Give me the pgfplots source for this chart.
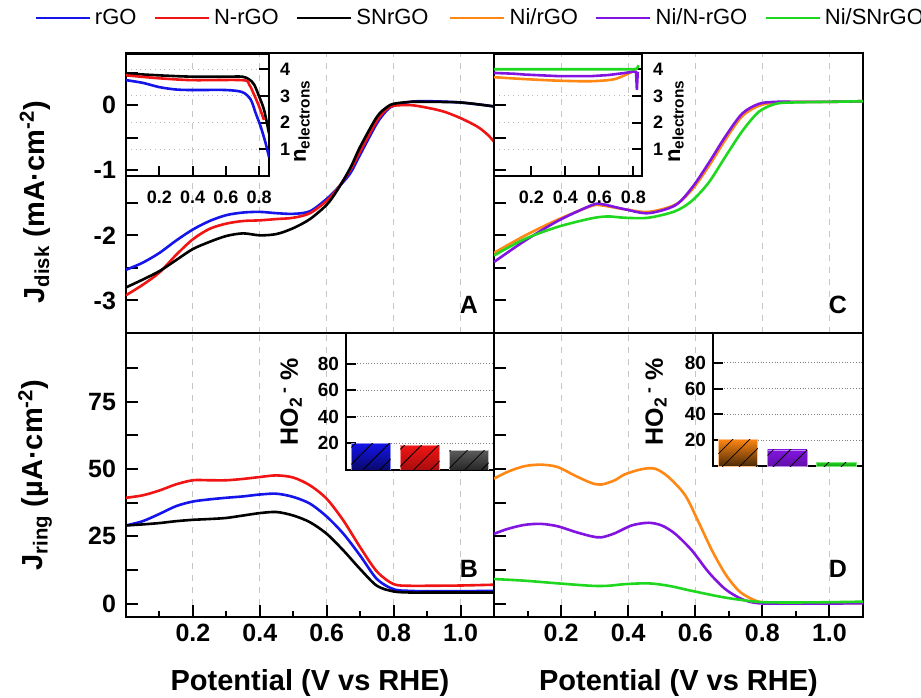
\documentclass[border=0pt]{standalone}
\usepackage{fontspec}
\setmainfont{Liberation Sans}
\usepackage{pgfplots}
\pgfplotsset{compat=1.18}
\usetikzlibrary{patterns.meta}

\definecolor{cblue}{RGB}{20,20,235}
\definecolor{cred}{RGB}{240,20,20}
\definecolor{corange}{RGB}{255,135,20}
\definecolor{cpurple}{RGB}{130,20,225}
\definecolor{cgreen}{RGB}{30,215,30}

\pgfplotsset{
  mainax/.style={
    scale only axis, xmin=0, xmax=1.1,
    axis line style={line width=1.2pt},
    tick align=inside,
    tick style={black, line width=1pt},
    xtick={0.2,0.4,0.6,0.8,1.0},
    minor xtick={0.1,0.3,0.5,0.7,0.9},
    xmajorgrids, major grid style={dashed, gray!45, line width=0.5pt},
    major tick length=6pt, minor tick length=3pt,
    ytick pos=left, xtick pos=bottom,
    /pgf/number format/assume math mode=true,
    tick label style={font=\fontsize{12.5}{14}\selectfont\bfseries},
    yticklabel style={xshift=-1.5pt},
    xticklabel style={/pgf/number format/fixed, /pgf/number format/fixed zerofill, /pgf/number format/precision=1},
    label style={font=\fontsize{14.5}{17}\selectfont\bfseries},
    every axis plot/.append style={line width=1.3pt, smooth, no markers},
    legend image code/.code={\draw[#1,line width=1.3pt] (0pt,0pt) -- (27pt,0pt);},
  },
  topax/.style={mainax, width=184pt, height=140pt, ymin=-3.5, ymax=0.8,
    ytick={-3.5,-3,-2.5,-2,-1.5,-1,-0.5,0,0.5},
    xticklabels={}, xtick style={draw=none}, minor xtick={}},
  botax/.style={mainax, width=184pt, height=142pt, ymin=-5, ymax=100.5,
    ytick={0,12.5,25,37.5,50,62.5,75,87.5},
    xlabel={Potential (V vs RHE)},
    xlabel style={at={(axis description cs:0.5,-0.232)}, anchor=center}},
  nax/.style={scale only axis, height=61pt, ymin=0, ymax=4.57,
    axis line style={line width=1.2pt}, tick align=inside,
    tick style={black, line width=1pt}, major tick length=5pt,
    xtick={0.2,0.4,0.6,0.8}, ytick={1,2,3,4},
    xtick pos=bottom, ytick pos=right, yticklabel pos=right,
    ymajorgrids, major grid style={dotted, gray!55, line width=0.5pt},
    /pgf/number format/assume math mode=true,
    tick label style={font=\fontsize{9}{10}\selectfont\bfseries},
    xticklabel style={/pgf/number format/fixed, /pgf/number format/fixed zerofill, /pgf/number format/precision=1, yshift=-4pt},
    yticklabel style={xshift=2pt},
    ylabel={n\textsubscript{electrons}},
    ylabel style={at={(axis description cs:1.23,0.45)}, anchor=center, font=\fontsize{11}{12}\selectfont\bfseries},
    every axis plot/.append style={line width=1.3pt, smooth, no markers}},
  barax/.style={scale only axis, ymin=0, ymax=103,
    axis background/.style={fill=white},
    axis line style={line width=1.2pt}, tick align=inside,
    tick style={black, line width=1pt}, major tick length=5pt,
    xtick=\empty, ytick={20,40,60,80}, ytick pos=left,
    ymajorgrids, major grid style={densely dotted, gray, line width=0.6pt},
    /pgf/number format/assume math mode=true,
    tick label style={font=\fontsize{9.5}{10}\selectfont\bfseries},
    ylabel={HO\textsubscript{2}\textsuperscript{\,-} \%},
    ylabel style={anchor=center, font=\fontsize{12.5}{14}\selectfont\bfseries}},
  hatch/.style={ybar, bar width=0.8, bar shift=0pt, draw=none,
    pattern={Lines[angle=45,distance=6pt,line width=0.4pt]}, pattern color=black},
}

\begin{document}
\begin{tikzpicture}[x=1pt,y=1pt]
\path[use as bounding box] (0,0) rectangle (460.5,348.5);

% ---------------- Panel A ----------------
\begin{axis}[topax, at={(63pt,182pt)}, anchor=south west,
  yticklabels={,-3,,-2,,-1,,0,},
  ylabel={J\textsubscript{disk} (mA·cm\textsuperscript{-2})},
  ylabel style={at={(axis description cs:-0.247,0.468)}, anchor=center},
  legend style={draw=none, fill=none, at={(axis description cs:0.292,1.125)}, anchor=center,
    legend columns=-1, font=\fontsize{11}{13}\selectfont,
    /tikz/every even column/.append style={column sep=6.5pt}}]
\addplot[cblue] coordinates {(0,-2.53) (0.05,-2.42) (0.1,-2.27) (0.15,-2.08) (0.2,-1.91) (0.25,-1.78) (0.3,-1.69) (0.35,-1.65) (0.4,-1.64) (0.45,-1.66) (0.5,-1.67) (0.55,-1.63) (0.6,-1.44) (0.63,-1.29) (0.67,-1.05) (0.7,-0.76) (0.75,-0.28) (0.78,-0.08) (0.8,-0.01) (0.85,0.05) (0.9,0.06) (1.0,0.04) (1.1,-0.02)};
\addlegendentry{rGO}
\addplot[cred] coordinates {(0,-2.92) (0.05,-2.76) (0.1,-2.57) (0.15,-2.3) (0.2,-2.06) (0.25,-1.9) (0.3,-1.82) (0.35,-1.78) (0.4,-1.77) (0.45,-1.75) (0.5,-1.73) (0.55,-1.66) (0.6,-1.47) (0.63,-1.3) (0.67,-1.0) (0.7,-0.71) (0.75,-0.24) (0.78,-0.06) (0.8,-0.01) (0.85,0.0) (0.9,-0.04) (0.95,-0.1) (1.0,-0.2) (1.05,-0.33) (1.08,-0.45) (1.1,-0.56)};
\addlegendentry{N-rGO}
\addplot[black] coordinates {(0,-2.8) (0.05,-2.68) (0.1,-2.55) (0.15,-2.38) (0.2,-2.21) (0.25,-2.1) (0.3,-2.01) (0.35,-1.97) (0.4,-2.0) (0.45,-1.98) (0.5,-1.89) (0.55,-1.75) (0.6,-1.53) (0.63,-1.32) (0.67,-0.97) (0.7,-0.64) (0.75,-0.18) (0.78,-0.03) (0.8,0.02) (0.85,0.05) (0.9,0.05) (1.0,0.04) (1.1,-0.02)};
\addlegendentry{SNrGO}
\node[font=\fontsize{12.5}{14}\selectfont\bfseries] at (rel axis cs:0.932,0.10) {A};
\end{axis}

% ---------------- Panel C ----------------
\begin{axis}[topax, at={(247pt,182pt)}, anchor=south west, width=184.5pt,
  yticklabels={},
  legend style={draw=none, fill=none, at={(axis description cs:0.527,1.125)}, anchor=center,
    legend columns=-1, font=\fontsize{11}{13}\selectfont,
    /tikz/every even column/.append style={column sep=6.5pt}}]
\addplot[corange] coordinates {(0,-2.27) (0.09,-2.01) (0.19,-1.76) (0.29,-1.55) (0.32,-1.54) (0.39,-1.6) (0.46,-1.64) (0.54,-1.53) (0.59,-1.30) (0.64,-0.94) (0.69,-0.53) (0.74,-0.17) (0.79,-0.01) (0.84,0.04) (0.9,0.05) (1.0,0.05) (1.1,0.06)};
\addlegendentry{Ni/rGO}
\addplot[cpurple] coordinates {(0,-2.41) (0.09,-2.09) (0.19,-1.78) (0.29,-1.54) (0.32,-1.52) (0.39,-1.60) (0.46,-1.66) (0.54,-1.54) (0.59,-1.27) (0.64,-0.89) (0.69,-0.48) (0.74,-0.13) (0.79,0.02) (0.84,0.05) (0.9,0.05) (1.0,0.05) (1.1,0.06)};
\addlegendentry{Ni/N-rGO}
\addplot[cgreen] coordinates {(0,-2.31) (0.09,-2.06) (0.19,-1.87) (0.29,-1.74) (0.34,-1.71) (0.39,-1.73) (0.46,-1.73) (0.54,-1.63) (0.59,-1.47) (0.64,-1.19) (0.69,-0.79) (0.74,-0.40) (0.79,-0.10) (0.84,0.02) (0.89,0.04) (1.0,0.05) (1.1,0.06)};
\addlegendentry{Ni/SNrGO}
\node[font=\fontsize{12.5}{14}\selectfont\bfseries] at (rel axis cs:0.932,0.10) {C};
\end{axis}

% ---------------- Panel B ----------------
\begin{axis}[botax, at={(63pt,40pt)}, anchor=south west,
  yticklabels={0,,25,,50,,75,},
  ylabel={J\textsubscript{ring} (µA·cm\textsuperscript{-2})},
  ylabel style={at={(axis description cs:-0.247,0.5)}, anchor=center}]
\addplot[cred] coordinates {(0,39.3) (0.05,40.2) (0.1,42.0) (0.15,44.3) (0.2,45.8) (0.25,45.8) (0.3,45.8) (0.35,46.3) (0.4,47.0) (0.45,47.6) (0.5,46.8) (0.55,43.9) (0.6,38.9) (0.65,30.8) (0.7,20.9) (0.75,11.9) (0.8,7.2) (0.85,6.6) (0.9,6.6) (1.0,6.7) (1.1,7.0)};
\addplot[cblue] coordinates {(0,29.0) (0.05,30.6) (0.1,33.3) (0.15,36.2) (0.2,37.9) (0.25,38.7) (0.3,39.3) (0.35,39.8) (0.4,40.5) (0.45,40.8) (0.5,39.6) (0.55,37.1) (0.6,32.3) (0.65,25.9) (0.7,17.8) (0.75,9.1) (0.8,5.3) (0.85,4.7) (0.9,4.6) (1.0,4.6) (1.1,4.7)};
\addplot[black] coordinates {(0,29.0) (0.05,29.4) (0.1,29.9) (0.15,30.6) (0.2,31.1) (0.25,31.4) (0.3,31.8) (0.35,32.7) (0.4,33.6) (0.45,34.0) (0.5,32.7) (0.55,30.2) (0.6,25.9) (0.65,19.7) (0.7,12.8) (0.75,6.6) (0.8,4.5) (0.85,4.1) (0.9,4.1) (1.0,4.1) (1.1,4.1)};
\node[font=\fontsize{12.5}{14}\selectfont\bfseries] at (rel axis cs:0.932,0.17) {B};
\end{axis}

% ---------------- Panel D ----------------
\begin{axis}[botax, at={(247pt,40pt)}, anchor=south west, width=184.5pt,
  yticklabels={}]
\addplot[corange] coordinates {(0,46.4) (0.04,48.9) (0.09,51.0) (0.14,51.6) (0.19,50.7) (0.24,47.6) (0.29,44.8) (0.32,44.2) (0.36,45.8) (0.39,48.0) (0.44,49.9) (0.48,50.1) (0.52,47.0) (0.57,40.2) (0.61,30.2) (0.65,19.7) (0.69,10.9) (0.73,4.7) (0.77,1.6) (0.81,0.2) (0.9,0.1) (1.0,0.1) (1.1,0.2)};
\addplot[cpurple] coordinates {(0,25.9) (0.04,27.7) (0.09,29.2) (0.14,29.6) (0.19,28.7) (0.24,26.7) (0.29,25.0) (0.32,24.6) (0.36,26.1) (0.41,29.0) (0.46,30.0) (0.5,29.0) (0.54,25.9) (0.59,19.7) (0.64,11.6) (0.69,5.3) (0.74,1.6) (0.79,0.1) (0.9,0.0) (1.0,0.0) (1.1,0.1)};
\addplot[cgreen] coordinates {(0,9.1) (0.09,8.5) (0.19,7.5) (0.29,6.6) (0.34,6.6) (0.39,7.2) (0.46,7.5) (0.52,6.6) (0.59,4.7) (0.69,2.2) (0.79,0.6) (0.89,0.4) (1.0,0.5) (1.1,0.7)};
\node[font=\fontsize{12.5}{14}\selectfont\bfseries] at (rel axis cs:0.932,0.17) {D};
\end{axis}

% ---------------- Inset A ----------------
\begin{axis}[nax, at={(63pt,260.5pt)}, anchor=south west, width=71.5pt, xmin=0, xmax=0.86]
\addplot[black] coordinates {(0,3.84) (0.2,3.77) (0.4,3.72) (0.6,3.72) (0.7,3.72) (0.74,3.62) (0.77,3.43) (0.8,2.99) (0.83,2.48) (0.86,1.6)};
\addplot[cred] coordinates {(0,3.77) (0.2,3.66) (0.4,3.59) (0.7,3.59) (0.74,3.43) (0.77,3.05) (0.8,2.61) (0.83,2.1)};
\addplot[cblue] coordinates {(0,3.59) (0.1,3.49) (0.2,3.33) (0.3,3.24) (0.4,3.22) (0.6,3.22) (0.7,3.14) (0.75,2.86) (0.78,2.35) (0.81,1.85) (0.84,1.22) (0.86,0.71)};
\end{axis}

% ---------------- Inset C ----------------
\begin{axis}[nax, at={(247pt,260.5pt)}, anchor=south west, width=74pt, xmin=-0.02, xmax=0.85]
\addplot[corange] coordinates {(-0.02,3.7) (0.16,3.63) (0.36,3.57) (0.55,3.55) (0.69,3.63) (0.79,3.9) (0.81,3.95)};
\addplot[cpurple, smooth=false, sharp plot] coordinates {(-0.02,3.86) (0.1,3.83) (0.16,3.8) (0.26,3.77) (0.36,3.74) (0.55,3.74) (0.65,3.78) (0.75,3.86) (0.8,3.91) (0.815,3.9) (0.82,3.23) (0.825,3.9)};
\addplot[cgreen, smooth=false, sharp plot] coordinates {(-0.02,4.0) (0.2,4.0) (0.4,4.0) (0.6,4.0) (0.8,4.0) (0.82,4.02) (0.83,4.15)};
\end{axis}

% ---------------- Inset B ----------------
\begin{axis}[barax, at={(173pt,113.5pt)}, anchor=south west, width=74pt, height=68.5pt,
  xmin=0.49, xmax=3.51,
  ylabel style={at={(axis description cs:-0.37,0.5)}}]
\addplot[ybar, bar width=0.8, bar shift=0pt, draw=cblue!50, top color=cblue, bottom color=cblue!45!black] coordinates {(1,20.2)};
\addplot[hatch] coordinates {(1,20.2)};
\addplot[ybar, bar width=0.8, bar shift=0pt, draw=cred!50, top color=cred, bottom color=cred!70!black] coordinates {(2,18.4)};
\addplot[hatch] coordinates {(2,18.4)};
\addplot[ybar, bar width=0.8, bar shift=0pt, draw=gray!50, top color=black!65, bottom color=black!85] coordinates {(3,14.4)};
\addplot[hatch] coordinates {(3,14.4)};
\end{axis}

% ---------------- Inset D ----------------
\begin{axis}[barax, at={(356.5pt,115.5pt)}, anchor=south west, width=75pt, height=66.5pt,
  xmin=0.49, xmax=3.54,
  ylabel style={at={(axis description cs:-0.38,0.485)}}]
\addplot[ybar, bar width=0.8, bar shift=0pt, draw=corange!50, top color=corange, bottom color=corange!30!black] coordinates {(1,20.8)};
\addplot[hatch] coordinates {(1,20.8)};
\addplot[ybar, bar width=0.8, bar shift=0pt, draw=cpurple!50, top color=cpurple, bottom color=cpurple!75!black] coordinates {(2,12.4)};
\addplot[hatch] coordinates {(2,12.4)};
\addplot[ybar, bar width=0.8, bar shift=0pt, draw=cgreen!60, top color=cgreen, bottom color=cgreen!75!black] coordinates {(3,2.9)};
\addplot[hatch] coordinates {(3,2.9)};
\end{axis}

\end{tikzpicture}
\end{document}
